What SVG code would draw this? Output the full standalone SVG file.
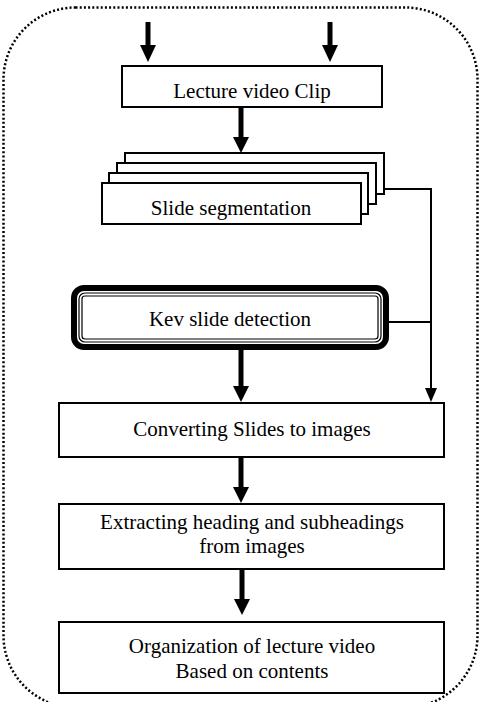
<svg xmlns="http://www.w3.org/2000/svg" width="479" height="702" viewBox="0 0 479 702">
  <style>
    .box { fill: #fff; stroke: #000; stroke-width: 2; }
    .lbl { font-family: "Liberation Serif", "Times New Roman", serif; font-size: 21px; fill: #000; text-anchor: middle; }
    .shaft { stroke: #000; stroke-width: 5; fill: none; }
    .thin { stroke: #000; stroke-width: 2; fill: none; }
    .head { fill: #000; }
  </style>

  <rect width="479" height="702" fill="#fff"/>

  <!-- dotted outer boundary -->
  <rect x="3.5" y="7.5" width="474" height="700" rx="72" ry="72" fill="none" stroke="#000" stroke-width="2.5" stroke-dasharray="2 2.2"/>

  <g id="connectors">
    <!-- incoming arrows at the top -->
    <line class="shaft" x1="148" y1="22" x2="148" y2="46"/>
    <polygon class="head" points="140,45 156,45 148,62"/>
    <line class="shaft" x1="330" y1="22" x2="330" y2="46"/>
    <polygon class="head" points="322,45 338,45 330,62"/>
    <!-- clip to segmentation -->
    <line class="shaft" x1="241" y1="107" x2="241" y2="138"/>
    <polygon class="head" points="233,137 249,137 241,153"/>
    <!-- segmentation bypass to conversion -->
    <polyline class="thin" points="384,189 431,189 431,390"/>
    <polygon class="head" points="425,388 437,388 431,402"/>
    <!-- key slide branch into bypass -->
    <line class="thin" x1="389" y1="322" x2="431" y2="322"/>
    <!-- key slide to conversion -->
    <line class="shaft" x1="241" y1="350" x2="241" y2="387"/>
    <polygon class="head" points="233,386 249,386 241,402"/>
    <!-- conversion to extraction -->
    <line class="shaft" x1="241" y1="457" x2="241" y2="488"/>
    <polygon class="head" points="233,487 249,487 241,503"/>
    <!-- extraction to organization -->
    <line class="shaft" x1="242" y1="569" x2="242" y2="600"/>
    <polygon class="head" points="234,599 250,599 242,615"/>
  </g>

  <g id="clip">
    <rect class="box" x="122" y="66" width="260" height="41"/>
    <text class="lbl" x="252" y="98">Lecture video Clip</text>
  </g>

  <g id="segmentation">
    <rect class="box" x="125" y="153" width="259" height="41"/>
    <rect class="box" x="117" y="163" width="259" height="41"/>
    <rect class="box" x="109" y="173" width="259" height="41"/>
    <rect class="box" x="102" y="183" width="259" height="41"/>
    <text class="lbl" x="231" y="215">Slide segmentation</text>
  </g>

  <g id="key-slide">
    <rect x="74" y="288" width="312" height="59" rx="10" ry="10" fill="#fff" stroke="#000" stroke-width="6"/>
    <rect x="79" y="293" width="302" height="49" rx="6" ry="6" fill="none" stroke="#000" stroke-width="1.2"/>
    <rect x="82" y="296" width="296" height="43" rx="3" ry="3" fill="none" stroke="#000" stroke-width="1.2"/>
    <text class="lbl" x="230" y="326">Kev slide detection</text>
  </g>

  <g id="conversion">
    <rect class="box" x="59" y="403" width="385" height="54"/>
    <text class="lbl" x="252" y="436">Converting Slides to images</text>
  </g>

  <g id="extraction">
    <rect class="box" x="59" y="504" width="385" height="65"/>
    <text class="lbl" x="252" y="529">Extracting heading and subheadings</text>
    <text class="lbl" x="252" y="553">from images</text>
  </g>

  <g id="organization">
    <rect class="box" x="59" y="622" width="385" height="71"/>
    <text class="lbl" x="252" y="653">Organization of lecture video</text>
    <text class="lbl" x="252" y="678">Based on contents</text>
  </g>
</svg>
